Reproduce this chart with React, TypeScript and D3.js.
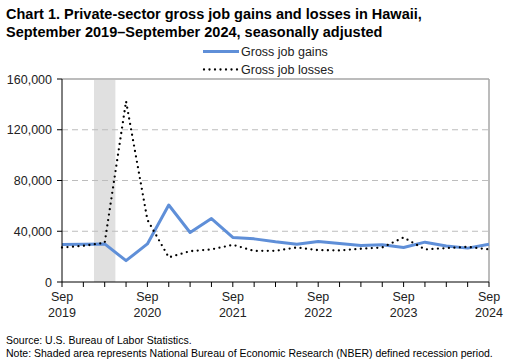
import React from "react";
import * as d3 from "d3";

const quarters = [
  "Sep 2019","Dec 2019","Mar 2020","Jun 2020","Sep 2020","Dec 2020","Mar 2021","Jun 2021","Sep 2021",
  "Dec 2021","Mar 2022","Jun 2022","Sep 2022","Dec 2022","Mar 2023","Jun 2023","Sep 2023","Dec 2023",
  "Mar 2024","Jun 2024","Sep 2024",
];
const gains = [29600, 29700, 30000, 16800, 30000, 60700, 39000, 50000, 35100, 34000, 31700, 29800, 32000, 30400, 28800, 29300, 27200, 31400, 28300, 26700, 29800];
const losses = [27200, 28500, 30900, 142400, 49000, 19400, 24300, 25700, 29300, 24500, 24600, 27200, 25100, 24900, 26200, 27200, 35100, 25700, 26700, 27700, 25700];
const yTicks = [0, 40000, 80000, 120000, 160000];
const xLabelIdx = [0, 4, 8, 12, 16, 20];
const recessionStart = 1.5;
const recessionEnd = 2.5;

const W = 512, H = 364;
const left = 62, right = 489, top = 79, bottom = 282;
const FONT = "Liberation Sans, Arial, sans-serif";

export default function App() {
  const x = d3.scaleLinear().domain([0, quarters.length - 1]).range([left, right]);
  const y = d3.scaleLinear().domain([0, 160000]).range([bottom, top]);
  const line = d3.line<number>().x((_, i) => x(i)).y((d) => y(d));
  const fmt = d3.format(",");
  return (
    <svg width={W} height={H} style={{ position: "absolute", left: 0, top: 0, background: "#fff" }} fontFamily={FONT}>
      <text x={6} y={19} fontSize={14.5} fontWeight="bold" fill="#000">Chart 1. Private-sector gross job gains and losses in Hawaii,</text>
      <text x={6} y={37} fontSize={14.5} fontWeight="bold" fill="#000">September 2019–September 2024, seasonally adjusted</text>

      {/* legend */}
      <line x1={203} x2={239} y1={51.5} y2={51.5} stroke="#5f8fd8" strokeWidth={3} />
      <text x={241} y={56} fontSize={12.5} fill="#222">Gross job gains</text>
      <line x1={204} x2={238} y1={69.5} y2={69.5} stroke="#000" strokeWidth={2.3} strokeDasharray="0 5.5" strokeLinecap="round" />
      <text x={241} y={74} fontSize={12.5} fill="#222">Gross job losses</text>

      {/* recession shading */}
      <rect x={x(recessionStart)} y={top + 1} width={x(recessionEnd) - x(recessionStart)} height={bottom - top - 1} fill="#e0e0e0" />

      {/* gridlines */}
      {yTicks.filter((t) => t > 0 && t < 160000).map((t) => (
        <line key={t} x1={left} x2={right} y1={y(t)} y2={y(t)} stroke="#bdbdbd" strokeWidth={1} strokeDasharray="6 4" />
      ))}
      <line x1={left} x2={right} y1={y(160000)} y2={y(160000)} stroke="#a6a6a6" strokeWidth={1.5} />
      <line x1={right} x2={right} y1={top} y2={bottom} stroke="#a6a6a6" strokeWidth={1.5} />

      {/* series */}
      <path d={line(gains) || ""} fill="none" stroke="#5f8fd8" strokeWidth={3} strokeLinejoin="round" />
      <path d={line(losses) || ""} fill="none" stroke="#000" strokeWidth={2.3} strokeDasharray="0 5.5" strokeLinecap="round" />

      {/* axes */}
      <line x1={left} x2={left} y1={top} y2={bottom} stroke="#000" strokeWidth={1} />
      <line x1={left} x2={right} y1={bottom} y2={bottom} stroke="#000" strokeWidth={1} />
      {yTicks.map((t) => (
        <g key={t}>
          <line x1={left - 5} x2={left} y1={y(t)} y2={y(t)} stroke="#000" />
          <text x={52} y={y(t) + 4.5} fontSize={12.5} textAnchor="end" fill="#222">{fmt(t)}</text>
        </g>
      ))}
      {quarters.map((q, i) => (
        <line key={q} x1={x(i)} x2={x(i)} y1={bottom} y2={bottom + 5} stroke="#000" />
      ))}
      {xLabelIdx.map((i) => {
        const [m, yr] = quarters[i].split(" ");
        return (
          <g key={i}>
            <text x={x(i)} y={301} fontSize={12.5} textAnchor="middle" fill="#222">{m}</text>
            <text x={x(i)} y={317} fontSize={12.5} textAnchor="middle" fill="#222">{yr}</text>
          </g>
        );
      })}

      <text x={6} y={344} fontSize={10.5} fill="#000">Source: U.S. Bureau of Labor Statistics.</text>
      <text x={6} y={357} fontSize={10.5} fill="#000">Note: Shaded area represents National Bureau of Economic Research (NBER) defined recession period.</text>
    </svg>
  );
}
